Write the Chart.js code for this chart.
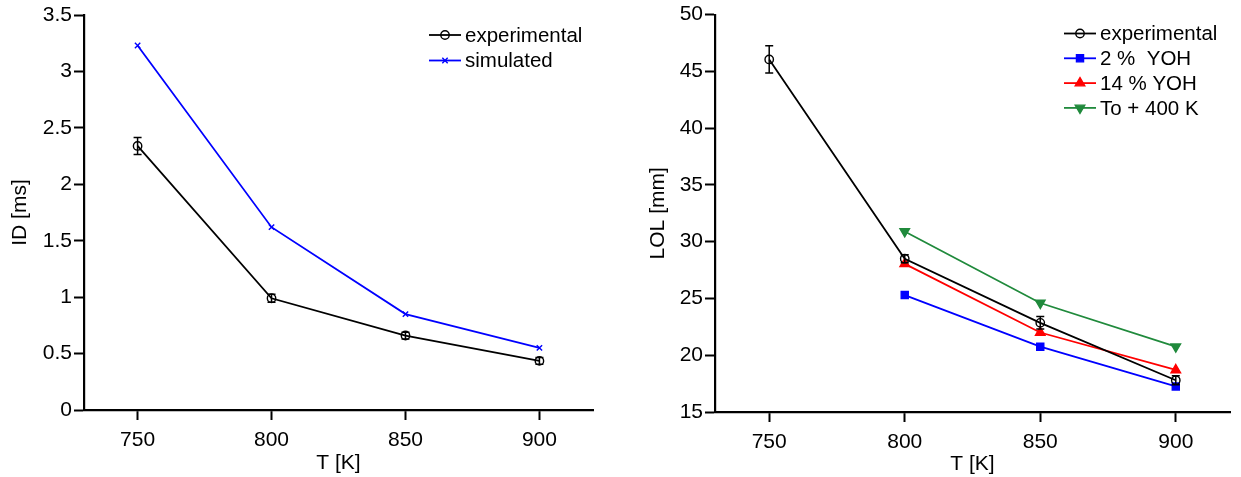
<!DOCTYPE html>
<html>
<head>
<meta charset="utf-8">
<script src="https://cdn.jsdelivr.net/npm/chart.js"></script>
<style>
body{margin:0;background:#fff;}
#wrap{position:relative;width:1241px;height:477px;}
canvas{position:absolute;top:0;}
#cLeft{left:0;}
#cRight{left:620px;}
</style>
</head>
<body>
<div id="wrap">
  <canvas id="cLeft" width="620" height="477"></canvas>
  <canvas id="cRight" width="621" height="477"></canvas>
</div>
<script>
// data
const temps = [750, 800, 850, 900];
const tempTicks = [750, 800, 850, 900];

const idExp = [2.34, 0.99, 0.66, 0.435];
const idExpErr = [0.075, 0.035, 0.03, 0.03];
const idSim = [3.23, 1.62, 0.85, 0.55];
const idTicks = [0, 0.5, 1, 1.5, 2, 2.5, 3, 3.5];

const lolExp = [46.05, 28.5, 22.85, 17.8];
const lolExpErr = [1.2, 0.35, 0.55, 0.4];
const lol2 = [null, 25.3, 20.75, 17.25];
const lol14 = [null, 28.05, 22.0, 18.7];
const lolTo = [null, 30.9, 24.6, 20.75];
const lolTicks = [15, 20, 25, 30, 35, 40, 45, 50];

const FONT = '"Liberation Sans", Arial, Helvetica, sans-serif';
Chart.defaults.font.family = FONT;
Chart.defaults.color = '#000';

function pts(ys){
  return temps.map((t, i) => ({x: t, y: ys[i]})).filter(p => p.y !== null);
}

// draws vertical error bars from ds.errors
const errorBars = {
  id: 'errorBars',
  afterDatasetsDraw(chart){
    const ctx = chart.ctx, xs = chart.scales.x, ys = chart.scales.y;
    chart.data.datasets.forEach(ds => {
      if(!ds.errors) return;
      ctx.save();
      ctx.strokeStyle = ds.borderColor;
      ctx.lineWidth = 1.5;
      ds.data.forEach((p, i) => {
        const e = ds.errors[i];
        if(!e) return;
        const x = xs.getPixelForValue(p.x);
        const y1 = ys.getPixelForValue(p.y + e), y2 = ys.getPixelForValue(p.y - e);
        ctx.beginPath();
        ctx.moveTo(x, y1); ctx.lineTo(x, y2);
        ctx.moveTo(x - 4, y1); ctx.lineTo(x + 4, y1);
        ctx.moveTo(x - 4, y2); ctx.lineTo(x + 4, y2);
        ctx.stroke();
      });
      ctx.restore();
    });
  }
};

// legend with line + marker sample
const lineLegend = {
  id: 'lineLegend',
  afterDraw(chart, args, opts){
    const ctx = chart.ctx;
    let y = opts.y;
    chart.data.datasets.forEach(ds => {
      ctx.save();
      ctx.strokeStyle = ds.borderColor;
      ctx.lineWidth = ds.borderWidth;
      ctx.beginPath();
      ctx.moveTo(opts.x, y); ctx.lineTo(opts.x + 32, y);
      ctx.stroke();
      ctx.fillStyle = ds.pointBackgroundColor;
      ctx.lineWidth = ds.pointBorderWidth;
      Chart.helpers.drawPoint(ctx, {
        pointStyle: ds.pointStyle, rotation: ds.pointRotation || 0,
        radius: ds.pointRadius, borderWidth: ds.pointBorderWidth
      }, opts.x + 16, y);
      ctx.fillStyle = '#000';
      ctx.font = '20.5px ' + FONT;
      ctx.textBaseline = 'middle';
      ctx.fillText(ds.label, opts.x + 36, y + 1);
      ctx.restore();
      y += opts.spacing;
    });
  }
};

function xAxis(titlePadBottom, h){
  return {
    type: 'linear', min: 730, max: 920,
    afterBuildTicks: s => { s.ticks = tempTicks.map(v => ({value: v})); },
    afterFit: s => { s.height = h; },
    ticks: { font: {size: 21}, padding: 8, maxRotation: 0, autoSkip: false, callback: v => String(v) },
    grid: { drawOnChartArea: false, tickLength: 10, tickWidth: 2, tickColor: '#000' },
    border: { color: '#000', width: 2.2 },
    title: { display: true, text: 'T [K]', font: {size: 21}, padding: {top: 0, bottom: titlePadBottom} }
  };
}

function yAxis(ticks, title, titlePadTop, w){
  return {
    type: 'linear', min: ticks[0], max: ticks[ticks.length - 1],
    afterBuildTicks: s => { s.ticks = ticks.map(v => ({value: v})); },
    afterFit: s => { s.width = w; },
    ticks: { font: {size: 21}, padding: 2, callback: v => String(v) },
    grid: { drawOnChartArea: false, tickLength: 10, tickWidth: 2, tickColor: '#000' },
    border: { color: '#000', width: 2.2 },
    title: { display: true, text: title, font: {size: 21}, padding: {top: titlePadTop, bottom: 0} }
  };
}

function series(label, data, color, style, radius, fill, extra){
  return Object.assign({
    label: label, data: pts(data),
    borderColor: color, backgroundColor: color, borderWidth: 1.8,
    pointStyle: style, pointRadius: radius, pointHoverRadius: radius,
    pointBackgroundColor: fill, pointBorderColor: color, pointBorderWidth: 1.4,
    tension: 0
  }, extra || {});
}

new Chart(document.getElementById('cLeft'), {
  type: 'line',
  data: {
    datasets: [
      series('experimental', idExp, '#000', 'circle', 4.2, 'rgba(0,0,0,0)', {errors: idExpErr}),
      series('simulated', idSim, '#0000ff', 'crossRot', 3.8, '#0000ff')
    ]
  },
  options: {
    responsive: false, animation: false, devicePixelRatio: 1,
    layout: { padding: {left: 0, top: 15, right: 27, bottom: 0} },
    plugins: { legend: {display: false}, tooltip: {enabled: false},
      lineLegend: { x: 429, y: 35, spacing: 25.5 } },
    scales: {
      x: xAxis(1.5, 67),
      y: yAxis(idTicks, 'ID [ms]', 7.5, 84)
    }
  },
  plugins: [errorBars, lineLegend]
});

new Chart(document.getElementById('cRight'), {
  type: 'line',
  data: {
    datasets: [
      series('experimental', lolExp, '#000', 'circle', 4.2, 'rgba(0,0,0,0)', {errors: lolExpErr}),
      series('2 %  YOH', lol2, '#0000ff', 'rect', 5, '#0000ff'),
      series('14 % YOH', lol14, '#ff0000', 'triangle', 5.5, '#ff0000'),
      series('To + 400 K', lolTo, '#208a3c', 'triangle', 5.5, '#208a3c', {pointRotation: 180})
    ]
  },
  options: {
    responsive: false, animation: false, devicePixelRatio: 1,
    layout: { padding: {left: 0, top: 13, right: 11, bottom: 0} },
    plugins: { legend: {display: false}, tooltip: {enabled: false},
      lineLegend: { x: 444, y: 33.5, spacing: 24.8 } },
    scales: {
      x: xAxis(0, 65),
      y: yAxis(lolTicks, 'LOL [mm]', 25.8, 95)
    }
  },
  plugins: [errorBars, lineLegend]
});
</script>
</body>
</html>
